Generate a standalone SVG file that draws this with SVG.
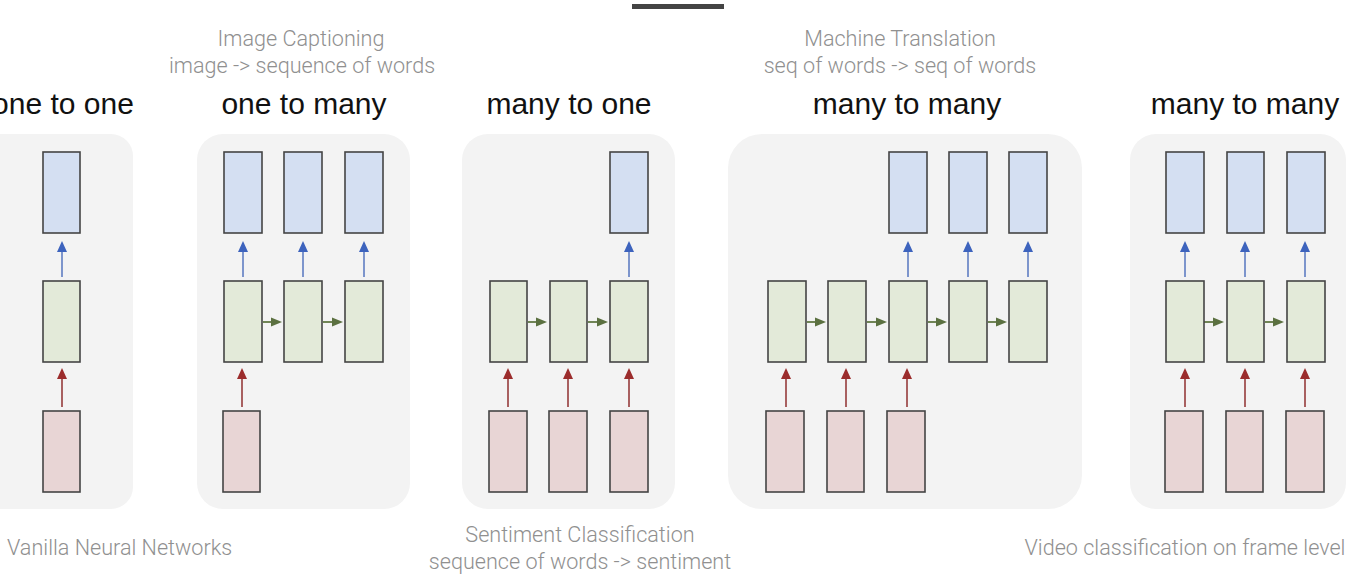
<svg xmlns="http://www.w3.org/2000/svg" width="1364" height="582" viewBox="0 0 1364 582">
<defs>
<style>
.panel{fill:#f3f3f3;stroke:none}
.out{fill:#d4dff2;stroke:#444;stroke-width:1.6}
.hid{fill:#e3ead9;stroke:#444;stroke-width:1.6}
.inp{fill:#e8d5d5;stroke:#444;stroke-width:1.6}
.ab{stroke:#7d95cc;stroke-width:2;marker-end:url(#hb)}
.ar{stroke:#a86060;stroke-width:2;marker-end:url(#hr)}
.ag{stroke:#6f8455;stroke-width:2;marker-end:url(#hg)}
.title{font-family:"Liberation Sans",Arial,sans-serif;font-size:30px;fill:#111;text-anchor:middle}
.sub{font-family:Roboto,"Liberation Sans",sans-serif;font-weight:300;font-size:21.6px;fill:#909090;text-anchor:middle}
</style>
<marker id="hb" markerUnits="userSpaceOnUse" markerWidth="12" markerHeight="12" viewBox="0 0 12 12" refX="2" refY="6" orient="auto"><path d="M0,1 L11,6 L0,11 Z" fill="#3d63bd"/></marker>
<marker id="hr" markerUnits="userSpaceOnUse" markerWidth="12" markerHeight="12" viewBox="0 0 12 12" refX="2" refY="6" orient="auto"><path d="M0,1 L11,6 L0,11 Z" fill="#9b2c2c"/></marker>
<marker id="hg" markerUnits="userSpaceOnUse" markerWidth="12" markerHeight="12" viewBox="0 0 12 12" refX="2" refY="6" orient="auto"><path d="M0,1.5 L11,6 L0,10.5 Z" fill="#5b7040"/></marker>
</defs>
<rect x="0" y="0" width="1364" height="582" fill="#ffffff"/>
<rect x="632" y="4" width="92" height="5" fill="#444"/>

<g id="labels">
<text class="sub" x="301" y="46">Image Captioning</text>
<text class="sub" x="302" y="73">image -&gt; sequence of words</text>
<text class="sub" x="900" y="46">Machine Translation</text>
<text class="sub" x="900" y="73">seq of words -&gt; seq of words</text>
<text class="sub" x="580" y="542">Sentiment Classification</text>
<text class="sub" x="580" y="569">sequence of words -&gt; sentiment</text>
<text class="sub" x="7" y="555" style="text-anchor:start">Vanilla Neural Networks</text>
<text class="sub" x="1185" y="555">Video classification on frame level</text>
<text class="title" x="63" y="114">one to one</text>
<text class="title" x="304" y="114">one to many</text>
<text class="title" x="569" y="114">many to one</text>
<text class="title" x="907" y="114">many to many</text>
<text class="title" x="1245" y="114">many to many</text>
</g>

<g id="panels">
<rect class="panel" x="-30" y="134" width="163" height="375" rx="22"/>
<rect class="panel" x="197" y="134" width="213" height="375" rx="26"/>
<rect class="panel" x="462" y="134" width="213" height="375" rx="26"/>
<rect class="panel" x="728" y="134" width="354" height="375" rx="34"/>
<rect class="panel" x="1130" y="134" width="216" height="375" rx="26"/>
</g>

<g id="connectors">
<line class="ab" x1="62" y1="277" x2="62" y2="250"/>
<line class="ar" x1="62" y1="407" x2="62" y2="377"/>
<line class="ab" x1="243" y1="277" x2="243" y2="250"/>
<line class="ab" x1="303" y1="277" x2="303" y2="250"/>
<line class="ab" x1="364" y1="277" x2="364" y2="250"/>
<line class="ar" x1="242" y1="407" x2="242" y2="377"/>
<line class="ag" x1="263" y1="322" x2="273" y2="322"/>
<line class="ag" x1="323" y1="322" x2="334" y2="322"/>
<line class="ab" x1="629" y1="277" x2="629" y2="250"/>
<line class="ar" x1="508" y1="407" x2="508" y2="377"/>
<line class="ar" x1="568" y1="407" x2="568" y2="377"/>
<line class="ar" x1="629" y1="407" x2="629" y2="377"/>
<line class="ag" x1="528" y1="322" x2="538" y2="322"/>
<line class="ag" x1="588" y1="322" x2="599" y2="322"/>
<line class="ab" x1="908" y1="277" x2="908" y2="250"/>
<line class="ab" x1="968" y1="277" x2="968" y2="250"/>
<line class="ab" x1="1028" y1="277" x2="1028" y2="250"/>
<line class="ar" x1="786" y1="407" x2="786" y2="377"/>
<line class="ar" x1="846" y1="407" x2="846" y2="377"/>
<line class="ar" x1="907" y1="407" x2="907" y2="377"/>
<line class="ag" x1="807" y1="322" x2="817" y2="322"/>
<line class="ag" x1="867" y1="322" x2="878" y2="322"/>
<line class="ag" x1="928" y1="322" x2="938" y2="322"/>
<line class="ag" x1="988" y1="322" x2="998" y2="322"/>
<line class="ab" x1="1185" y1="277" x2="1185" y2="250"/>
<line class="ab" x1="1245" y1="277" x2="1245" y2="250"/>
<line class="ab" x1="1305" y1="277" x2="1305" y2="250"/>
<line class="ar" x1="1185" y1="407" x2="1185" y2="377"/>
<line class="ar" x1="1245" y1="407" x2="1245" y2="377"/>
<line class="ar" x1="1305" y1="407" x2="1305" y2="377"/>
<line class="ag" x1="1204" y1="322" x2="1215" y2="322"/>
<line class="ag" x1="1265" y1="322" x2="1275" y2="322"/>
</g>

<g id="one-to-one">
<rect class="out" x="43" y="152" width="37" height="81"/>
<rect class="hid" x="43" y="281" width="37" height="81"/>
<rect class="inp" x="43" y="411" width="37" height="81"/>
</g>

<g id="one-to-many">
<rect class="out" x="224" y="152" width="38" height="81"/>
<rect class="out" x="284" y="152" width="38" height="81"/>
<rect class="out" x="345" y="152" width="38" height="81"/>
<rect class="hid" x="224" y="281" width="38" height="81"/>
<rect class="hid" x="284" y="281" width="38" height="81"/>
<rect class="hid" x="345" y="281" width="38" height="81"/>
<rect class="inp" x="223" y="411" width="37" height="81"/>
</g>

<g id="many-to-one">
<rect class="out" x="610" y="152" width="38" height="81"/>
<rect class="hid" x="490" y="281" width="37" height="81"/>
<rect class="hid" x="550" y="281" width="37" height="81"/>
<rect class="hid" x="610" y="281" width="38" height="81"/>
<rect class="inp" x="489" y="411" width="38" height="81"/>
<rect class="inp" x="549" y="411" width="38" height="81"/>
<rect class="inp" x="610" y="411" width="38" height="81"/>
</g>

<g id="many-to-many-seq">
<rect class="out" x="889" y="152" width="38" height="81"/>
<rect class="out" x="949" y="152" width="38" height="81"/>
<rect class="out" x="1009" y="152" width="38" height="81"/>
<rect class="hid" x="768" y="281" width="38" height="81"/>
<rect class="hid" x="828" y="281" width="38" height="81"/>
<rect class="hid" x="889" y="281" width="38" height="81"/>
<rect class="hid" x="949" y="281" width="38" height="81"/>
<rect class="hid" x="1009" y="281" width="38" height="81"/>
<rect class="inp" x="766" y="411" width="38" height="81"/>
<rect class="inp" x="827" y="411" width="37" height="81"/>
<rect class="inp" x="887" y="411" width="38" height="81"/>
</g>

<g id="many-to-many-sync">
<rect class="out" x="1166" y="152" width="38" height="81"/>
<rect class="out" x="1227" y="152" width="37" height="81"/>
<rect class="out" x="1287" y="152" width="38" height="81"/>
<rect class="hid" x="1166" y="281" width="38" height="81"/>
<rect class="hid" x="1227" y="281" width="37" height="81"/>
<rect class="hid" x="1287" y="281" width="38" height="81"/>
<rect class="inp" x="1165" y="411" width="38" height="81"/>
<rect class="inp" x="1226" y="411" width="37" height="81"/>
<rect class="inp" x="1286" y="411" width="38" height="81"/>
</g>
</svg>
